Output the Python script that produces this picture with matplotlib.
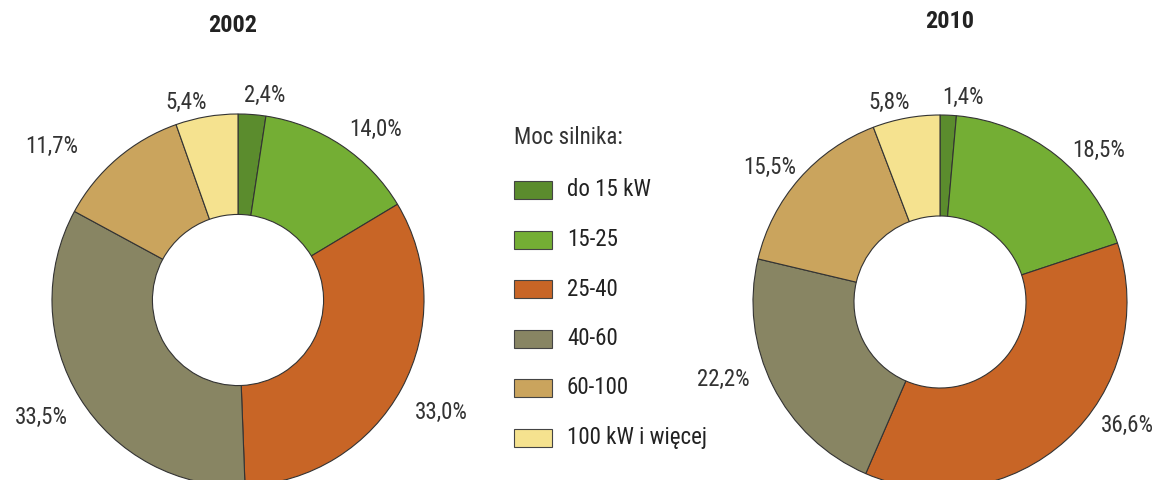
import numpy as np
import matplotlib
matplotlib.use("Agg")
import matplotlib.pyplot as plt
from matplotlib import font_manager as fm
from matplotlib.font_manager import FontProperties
from matplotlib.patches import Rectangle

categories = ["do 15 kW", "15-25", "25-40", "40-60", "60-100", "100 kW i więcej"]
values_2002 = [2.4, 14.0, 33.0, 33.5, 11.7, 5.4]
values_2010 = [1.4, 18.5, 36.6, 22.2, 15.5, 5.8]
years = ["2002", "2010"]
colors = ["#5b8c2d", "#74ae34", "#c86526", "#888563", "#caa45d", "#f5e28f"]
legend_title = "Moc silnika:"


def find_narrow(bold=False):
    cands = []
    for f in fm.fontManager.ttflist:
        n = f.name
        fn = f.fname.lower()
        is_narrow = ("narrow" in n.lower() or "condensed" in n.lower()
                     or "narrow" in fn or "condensed" in fn
                     or str(f.stretch) in ("condensed", "semi-condensed", "extra-condensed"))
        if not is_narrow:
            continue
        if f.style != "normal":
            continue
        w = f.weight if isinstance(f.weight, int) else (700 if f.weight == "bold" else 400)
        if bold != (w >= 600):
            continue
        score = 0
        if "liberation" in fn:
            score = 3
        elif "roboto" in fn:
            score = 2
        elif "dejavu" in fn and "mono" not in fn and "serif" not in fn:
            score = 1
        else:
            score = 0 if "sans" in fn else -5
        if "mono" in fn or "serif" in n.lower():
            score -= 10
        cands.append((score, f.fname))
    cands.sort(reverse=True)
    return cands[0][1] if cands else None


nr = find_narrow(False)
nb = find_narrow(True)
fp_reg = FontProperties(fname=nr) if nr else FontProperties(family="DejaVu Sans", stretch="condensed")
fp_bold = FontProperties(fname=nb) if nb else FontProperties(family="DejaVu Sans", weight="bold")

W, H = 1153, 480
fig = plt.figure(figsize=(W / 100, H / 100), dpi=100)

# layout: (center x, center y, radius) in pixels
layouts = [(238, 300, 186), (940, 302, 187)]
# label placement tweaks (radial factor, angle offset in degrees)
label_r = [[1.11, 1.18, 1.25, 1.23, 1.30, 1.10], [1.10, 1.17, 1.20, 1.23, 1.16, 1.10]]
label_da = [[-3, -5, -0.5, -1, 10, 5], [-4, -8, 14, -7, 3, 4]]
title_pos = [(233, 25), (950, 22)]

fs = 16.5


def fmt(v):
    return f"{v:.1f}".replace(".", ",") + "%"


def fprop(base, size):
    p = base.copy()
    p.set_size(size)
    return p


for i, vals in enumerate([values_2002, values_2010]):
    cx, cy, R = layouts[i]
    ax = fig.add_axes([(cx - R) / W, (H - cy - R) / H, 2 * R / W, 2 * R / H])
    wedges, _ = ax.pie(vals, colors=colors, startangle=90, counterclock=False,
                       radius=1.0, wedgeprops=dict(width=0.54, edgecolor="#333333", linewidth=0.8))
    ax.set_xlim(-1, 1)
    ax.set_ylim(-1, 1)
    ax.set_aspect("equal")
    ax.axis("off")
    for j, w in enumerate(wedges):
        mid = (w.theta1 + w.theta2) / 2 + label_da[i][j]
        r = label_r[i][j]
        ax.text(r * np.cos(np.radians(mid)), r * np.sin(np.radians(mid)), fmt(vals[j]),
                ha="center", va="center", fontproperties=fprop(fp_reg, fs), color="#333333",
                clip_on=False)
    tx, ty = title_pos[i]
    fig.text(tx / W, 1 - ty / H, years[i], ha="center", va="center",
             fontproperties=fprop(fp_bold, 17.5), color="#222222")

# legend
fig.text(514 / W, 1 - 138 / H, legend_title, ha="left", va="center",
         fontproperties=fprop(fp_reg, fs), color="#333333")
for k, (lab, c) in enumerate(zip(categories, colors)):
    y = 190 + k * 49.5
    fig.patches.append(Rectangle((514 / W, 1 - (y + 9) / H), 38 / W, 18 / H,
                                 transform=fig.transFigure, facecolor=c,
                                 edgecolor="#444444", linewidth=0.8))
    fig.text(567 / W, 1 - y / H, lab, ha="left", va="center",
             fontproperties=fprop(fp_reg, fs), color="#222222")

fig.savefig("out.png", dpi=100)
